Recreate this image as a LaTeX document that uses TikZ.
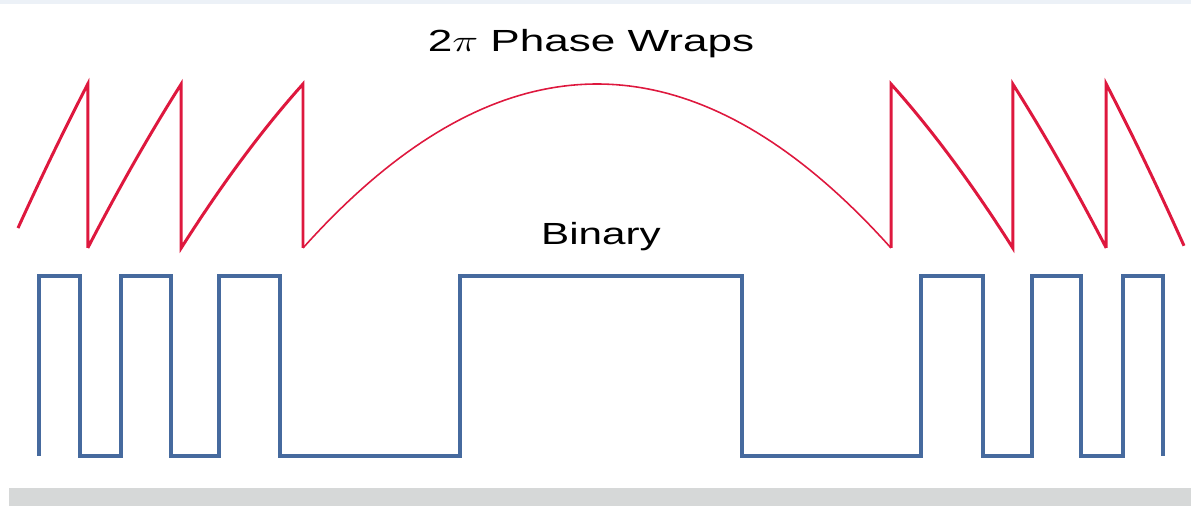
\documentclass[tikz,border=0pt]{standalone}
\usepackage{fontspec}
\setsansfont{Liberation Sans}
\usepackage{tikz}
\definecolor{phasered}{RGB}{222,24,62}
\definecolor{bitblue}{RGB}{70,106,158}
\definecolor{bandgray}{RGB}{214,216,216}
\definecolor{stripblue}{RGB}{236,241,247}
\tikzset{
  phase/.style={phasered,line width=1.7pt,line join=miter},
  phasearc/.style={phasered,line width=0.9pt},
  binary/.style={bitblue,line width=2pt,line join=miter},
  caption/.style={font=\sffamily\fontsize{17.4}{20}\selectfont,xscale=1.38,anchor=base,inner sep=0pt},
  declare function={ph(\x)=84+164*((\x-597)/294)*((\x-597)/294);}
}

\begin{document}
\begin{tikzpicture}[x=0.02cm,y=-0.02cm]
  \useasboundingbox (0,0) rectangle (1191,506);
  % page strips
  \fill[stripblue] (0,0) rectangle (1191,4);
  \fill[bandgray] (9,488) rectangle (1191,506);
  % labels
  \node[caption,xscale=1.045] (wraps) at (591,52) {2$\pi$ Phase Wraps};
  \node[caption] (bin) at (601,245) {Binary};
  % wrapped phase, left teeth
  \draw[phase]
    plot[domain=18:87.8,samples=20] (\x,{ph(\x)-492}) -- (87.8,248)
    -- plot[domain=87.8:181.2,samples=20] (\x,{ph(\x)-328}) -- (181.2,248)
    -- plot[domain=181.2:303,samples=20] (\x,{ph(\x)-164}) -- (303,248);
  % unwrapped top
  \draw[phasearc] plot[domain=303:891,samples=80] (\x,{ph(\x)});
  % wrapped phase, right teeth
  \draw[phase]
    (891,248) -- plot[domain=891:1012.8,samples=20] (\x,{ph(\x)-164}) -- (1012.8,248)
    -- plot[domain=1012.8:1106.2,samples=20] (\x,{ph(\x)-328}) -- (1106.2,248)
    -- plot[domain=1106.2:1184,samples=20] (\x,{ph(\x)-492});
  % binary mask
  \draw[binary] (39,456)
    \foreach \a/\b in {39/80,121/171,219/280,460/742,921/983,1032/1081,1123/1163}
      { -- (\a,456) -- (\a,276) -- (\b,276) -- (\b,456) };
\end{tikzpicture}
\end{document}
